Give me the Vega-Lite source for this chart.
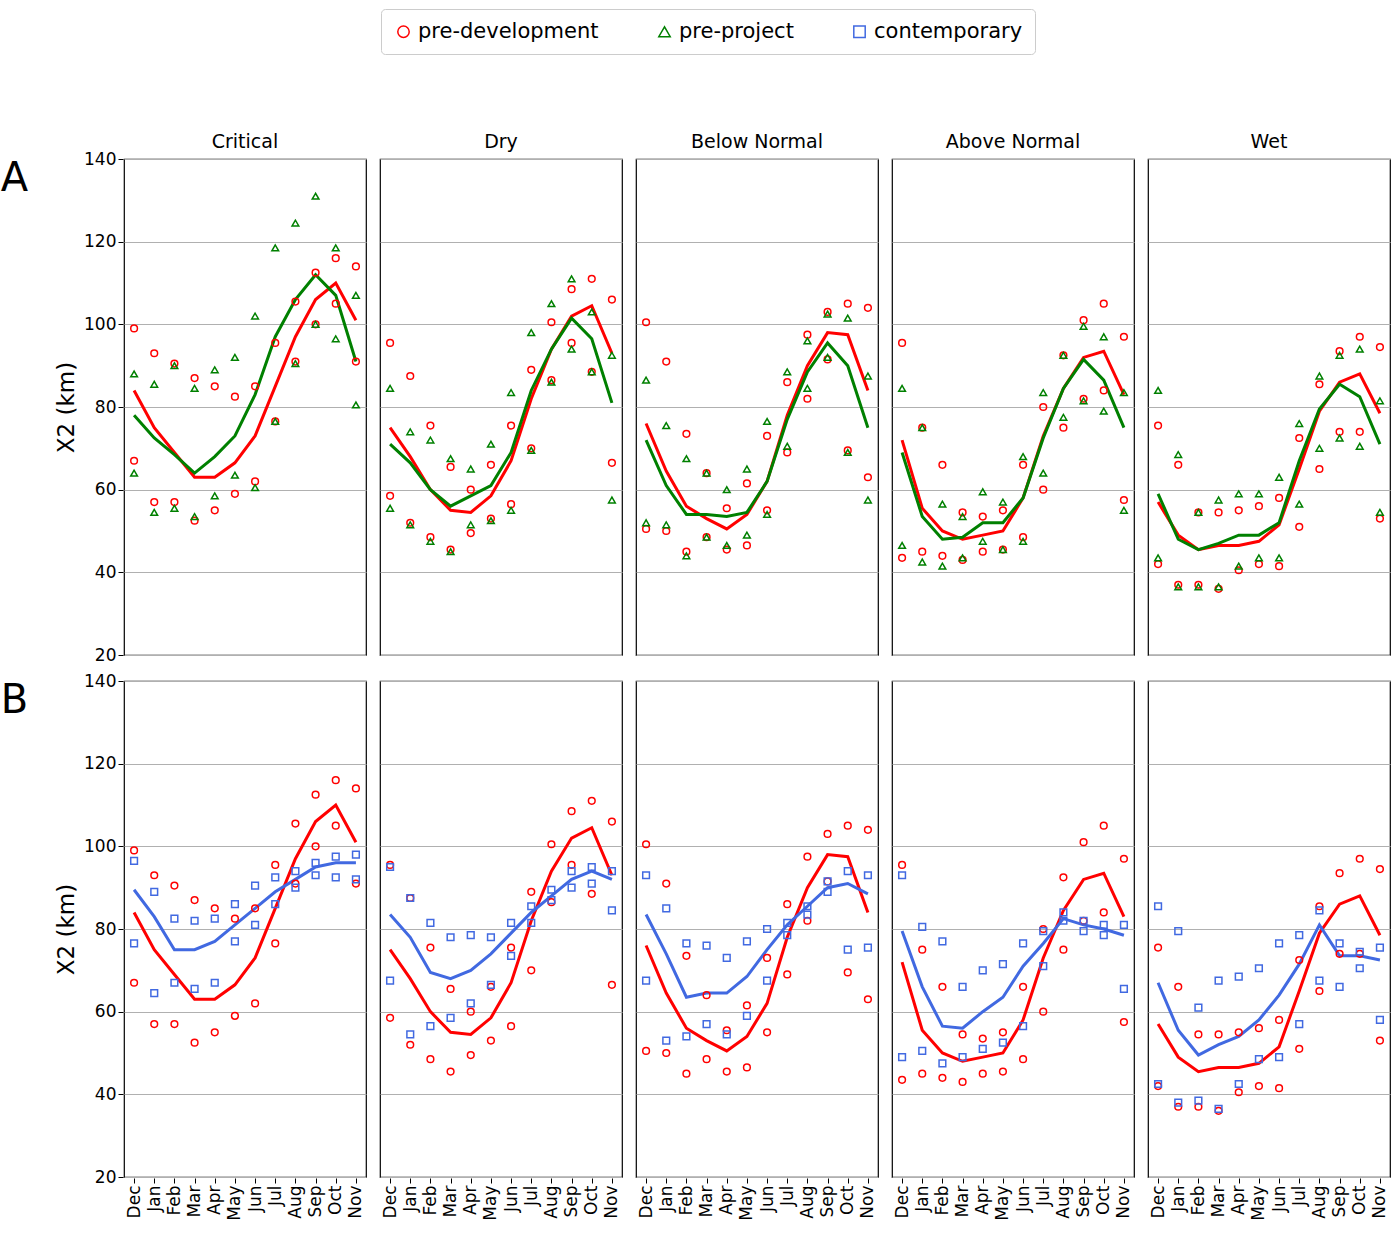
{"$schema":"https://vega.github.io/schema/vega-lite/v6.json","padding":{"left":0,"top":8,"right":0,"bottom":0},"datasets":{"d":[
{"p":"A","t":"Critical","s":"pre-development","m":"Dec","mean":84,"lo":67,"hi":99},
{"p":"A","t":"Critical","s":"pre-development","m":"Jan","mean":75,"lo":57,"hi":93},
{"p":"A","t":"Critical","s":"pre-development","m":"Feb","mean":69,"lo":57,"hi":90.5},
{"p":"A","t":"Critical","s":"pre-development","m":"Mar","mean":63,"lo":52.5,"hi":87},
{"p":"A","t":"Critical","s":"pre-development","m":"Apr","mean":63,"lo":55,"hi":85},
{"p":"A","t":"Critical","s":"pre-development","m":"May","mean":66.5,"lo":59,"hi":82.5},
{"p":"A","t":"Critical","s":"pre-development","m":"Jun","mean":73,"lo":62,"hi":85},
{"p":"A","t":"Critical","s":"pre-development","m":"Jul","mean":85,"lo":76.5,"hi":95.5},
{"p":"A","t":"Critical","s":"pre-development","m":"Aug","mean":97,"lo":91,"hi":105.5},
{"p":"A","t":"Critical","s":"pre-development","m":"Sep","mean":106,"lo":100,"hi":112.5},
{"p":"A","t":"Critical","s":"pre-development","m":"Oct","mean":110,"lo":105,"hi":116},
{"p":"A","t":"Critical","s":"pre-development","m":"Nov","mean":101,"lo":91,"hi":114},
{"p":"B","t":"Critical","s":"pre-development","m":"Dec","mean":84,"lo":67,"hi":99},
{"p":"B","t":"Critical","s":"pre-development","m":"Jan","mean":75,"lo":57,"hi":93},
{"p":"B","t":"Critical","s":"pre-development","m":"Feb","mean":69,"lo":57,"hi":90.5},
{"p":"B","t":"Critical","s":"pre-development","m":"Mar","mean":63,"lo":52.5,"hi":87},
{"p":"B","t":"Critical","s":"pre-development","m":"Apr","mean":63,"lo":55,"hi":85},
{"p":"B","t":"Critical","s":"pre-development","m":"May","mean":66.5,"lo":59,"hi":82.5},
{"p":"B","t":"Critical","s":"pre-development","m":"Jun","mean":73,"lo":62,"hi":85},
{"p":"B","t":"Critical","s":"pre-development","m":"Jul","mean":85,"lo":76.5,"hi":95.5},
{"p":"B","t":"Critical","s":"pre-development","m":"Aug","mean":97,"lo":91,"hi":105.5},
{"p":"B","t":"Critical","s":"pre-development","m":"Sep","mean":106,"lo":100,"hi":112.5},
{"p":"B","t":"Critical","s":"pre-development","m":"Oct","mean":110,"lo":105,"hi":116},
{"p":"B","t":"Critical","s":"pre-development","m":"Nov","mean":101,"lo":91,"hi":114},
{"p":"A","t":"Critical","s":"pre-project","m":"Dec","mean":78,"lo":64,"hi":88},
{"p":"A","t":"Critical","s":"pre-project","m":"Jan","mean":72.5,"lo":54.5,"hi":85.5},
{"p":"A","t":"Critical","s":"pre-project","m":"Feb","mean":68.5,"lo":55.5,"hi":90},
{"p":"A","t":"Critical","s":"pre-project","m":"Mar","mean":64,"lo":53.5,"hi":84.5},
{"p":"A","t":"Critical","s":"pre-project","m":"Apr","mean":68,"lo":58.5,"hi":89},
{"p":"A","t":"Critical","s":"pre-project","m":"May","mean":73,"lo":63.5,"hi":92},
{"p":"A","t":"Critical","s":"pre-project","m":"Jun","mean":83,"lo":60.5,"hi":102},
{"p":"A","t":"Critical","s":"pre-project","m":"Jul","mean":97,"lo":76.5,"hi":118.5},
{"p":"A","t":"Critical","s":"pre-project","m":"Aug","mean":106,"lo":90.5,"hi":124.5},
{"p":"A","t":"Critical","s":"pre-project","m":"Sep","mean":112,"lo":100,"hi":131},
{"p":"A","t":"Critical","s":"pre-project","m":"Oct","mean":107,"lo":96.5,"hi":118.5},
{"p":"A","t":"Critical","s":"pre-project","m":"Nov","mean":91,"lo":80.5,"hi":107},
{"p":"B","t":"Critical","s":"contemporary","m":"Dec","mean":89.5,"lo":76.5,"hi":96.5},
{"p":"B","t":"Critical","s":"contemporary","m":"Jan","mean":83,"lo":64.5,"hi":89},
{"p":"B","t":"Critical","s":"contemporary","m":"Feb","mean":75,"lo":67,"hi":82.5},
{"p":"B","t":"Critical","s":"contemporary","m":"Mar","mean":75,"lo":65.5,"hi":82},
{"p":"B","t":"Critical","s":"contemporary","m":"Apr","mean":77,"lo":67,"hi":82.5},
{"p":"B","t":"Critical","s":"contemporary","m":"May","mean":81,"lo":77,"hi":86},
{"p":"B","t":"Critical","s":"contemporary","m":"Jun","mean":85,"lo":81,"hi":90.5},
{"p":"B","t":"Critical","s":"contemporary","m":"Jul","mean":89,"lo":86,"hi":92.5},
{"p":"B","t":"Critical","s":"contemporary","m":"Aug","mean":92,"lo":90,"hi":94},
{"p":"B","t":"Critical","s":"contemporary","m":"Sep","mean":95,"lo":93,"hi":96},
{"p":"B","t":"Critical","s":"contemporary","m":"Oct","mean":96,"lo":92.5,"hi":97.5},
{"p":"B","t":"Critical","s":"contemporary","m":"Nov","mean":96,"lo":92,"hi":98},
{"p":"A","t":"Dry","s":"pre-development","m":"Dec","mean":75,"lo":58.5,"hi":95.5},
{"p":"A","t":"Dry","s":"pre-development","m":"Jan","mean":68,"lo":52,"hi":87.5},
{"p":"A","t":"Dry","s":"pre-development","m":"Feb","mean":60,"lo":48.5,"hi":75.5},
{"p":"A","t":"Dry","s":"pre-development","m":"Mar","mean":55,"lo":45.5,"hi":65.5},
{"p":"A","t":"Dry","s":"pre-development","m":"Apr","mean":54.5,"lo":49.5,"hi":60},
{"p":"A","t":"Dry","s":"pre-development","m":"May","mean":58.5,"lo":53,"hi":66},
{"p":"A","t":"Dry","s":"pre-development","m":"Jun","mean":67,"lo":56.5,"hi":75.5},
{"p":"A","t":"Dry","s":"pre-development","m":"Jul","mean":82,"lo":70,"hi":89},
{"p":"A","t":"Dry","s":"pre-development","m":"Aug","mean":94,"lo":86.5,"hi":100.5},
{"p":"A","t":"Dry","s":"pre-development","m":"Sep","mean":102,"lo":95.5,"hi":108.5},
{"p":"A","t":"Dry","s":"pre-development","m":"Oct","mean":104.5,"lo":88.5,"hi":111},
{"p":"A","t":"Dry","s":"pre-development","m":"Nov","mean":93,"lo":66.5,"hi":106},
{"p":"B","t":"Dry","s":"pre-development","m":"Dec","mean":75,"lo":58.5,"hi":95.5},
{"p":"B","t":"Dry","s":"pre-development","m":"Jan","mean":68,"lo":52,"hi":87.5},
{"p":"B","t":"Dry","s":"pre-development","m":"Feb","mean":60,"lo":48.5,"hi":75.5},
{"p":"B","t":"Dry","s":"pre-development","m":"Mar","mean":55,"lo":45.5,"hi":65.5},
{"p":"B","t":"Dry","s":"pre-development","m":"Apr","mean":54.5,"lo":49.5,"hi":60},
{"p":"B","t":"Dry","s":"pre-development","m":"May","mean":58.5,"lo":53,"hi":66},
{"p":"B","t":"Dry","s":"pre-development","m":"Jun","mean":67,"lo":56.5,"hi":75.5},
{"p":"B","t":"Dry","s":"pre-development","m":"Jul","mean":82,"lo":70,"hi":89},
{"p":"B","t":"Dry","s":"pre-development","m":"Aug","mean":94,"lo":86.5,"hi":100.5},
{"p":"B","t":"Dry","s":"pre-development","m":"Sep","mean":102,"lo":95.5,"hi":108.5},
{"p":"B","t":"Dry","s":"pre-development","m":"Oct","mean":104.5,"lo":88.5,"hi":111},
{"p":"B","t":"Dry","s":"pre-development","m":"Nov","mean":93,"lo":66.5,"hi":106},
{"p":"A","t":"Dry","s":"pre-project","m":"Dec","mean":71,"lo":55.5,"hi":84.5},
{"p":"A","t":"Dry","s":"pre-project","m":"Jan","mean":66.5,"lo":51.5,"hi":74},
{"p":"A","t":"Dry","s":"pre-project","m":"Feb","mean":60,"lo":47.5,"hi":72},
{"p":"A","t":"Dry","s":"pre-project","m":"Mar","mean":56,"lo":45,"hi":67.5},
{"p":"A","t":"Dry","s":"pre-project","m":"Apr","mean":58.5,"lo":51.5,"hi":65},
{"p":"A","t":"Dry","s":"pre-project","m":"May","mean":61,"lo":52.5,"hi":71},
{"p":"A","t":"Dry","s":"pre-project","m":"Jun","mean":69,"lo":55,"hi":83.5},
{"p":"A","t":"Dry","s":"pre-project","m":"Jul","mean":84,"lo":69.5,"hi":98},
{"p":"A","t":"Dry","s":"pre-project","m":"Aug","mean":94,"lo":86,"hi":105},
{"p":"A","t":"Dry","s":"pre-project","m":"Sep","mean":101.5,"lo":94,"hi":111},
{"p":"A","t":"Dry","s":"pre-project","m":"Oct","mean":96.5,"lo":88.5,"hi":103},
{"p":"A","t":"Dry","s":"pre-project","m":"Nov","mean":81,"lo":57.5,"hi":92.5},
{"p":"B","t":"Dry","s":"contemporary","m":"Dec","mean":83.5,"lo":67.5,"hi":95},
{"p":"B","t":"Dry","s":"contemporary","m":"Jan","mean":78,"lo":54.5,"hi":87.5},
{"p":"B","t":"Dry","s":"contemporary","m":"Feb","mean":69.5,"lo":56.5,"hi":81.5},
{"p":"B","t":"Dry","s":"contemporary","m":"Mar","mean":68,"lo":58.5,"hi":78},
{"p":"B","t":"Dry","s":"contemporary","m":"Apr","mean":70,"lo":62,"hi":78.5},
{"p":"B","t":"Dry","s":"contemporary","m":"May","mean":74,"lo":66.5,"hi":78},
{"p":"B","t":"Dry","s":"contemporary","m":"Jun","mean":79,"lo":73.5,"hi":81.5},
{"p":"B","t":"Dry","s":"contemporary","m":"Jul","mean":84,"lo":81.5,"hi":85.5},
{"p":"B","t":"Dry","s":"contemporary","m":"Aug","mean":88,"lo":87,"hi":89.5},
{"p":"B","t":"Dry","s":"contemporary","m":"Sep","mean":92,"lo":90,"hi":94},
{"p":"B","t":"Dry","s":"contemporary","m":"Oct","mean":94,"lo":91,"hi":95},
{"p":"B","t":"Dry","s":"contemporary","m":"Nov","mean":92,"lo":84.5,"hi":94},
{"p":"A","t":"Below Normal","s":"pre-development","m":"Dec","mean":76,"lo":50.5,"hi":100.5},
{"p":"A","t":"Below Normal","s":"pre-development","m":"Jan","mean":64.5,"lo":50,"hi":91},
{"p":"A","t":"Below Normal","s":"pre-development","m":"Feb","mean":56,"lo":45,"hi":73.5},
{"p":"A","t":"Below Normal","s":"pre-development","m":"Mar","mean":53,"lo":48.5,"hi":64},
{"p":"A","t":"Below Normal","s":"pre-development","m":"Apr","mean":50.5,"lo":45.5,"hi":55.5},
{"p":"A","t":"Below Normal","s":"pre-development","m":"May","mean":54,"lo":46.5,"hi":61.5},
{"p":"A","t":"Below Normal","s":"pre-development","m":"Jun","mean":62,"lo":55,"hi":73},
{"p":"A","t":"Below Normal","s":"pre-development","m":"Jul","mean":78,"lo":69,"hi":86},
{"p":"A","t":"Below Normal","s":"pre-development","m":"Aug","mean":90,"lo":82,"hi":97.5},
{"p":"A","t":"Below Normal","s":"pre-development","m":"Sep","mean":98,"lo":91.5,"hi":103},
{"p":"A","t":"Below Normal","s":"pre-development","m":"Oct","mean":97.5,"lo":69.5,"hi":105},
{"p":"A","t":"Below Normal","s":"pre-development","m":"Nov","mean":84,"lo":63,"hi":104},
{"p":"B","t":"Below Normal","s":"pre-development","m":"Dec","mean":76,"lo":50.5,"hi":100.5},
{"p":"B","t":"Below Normal","s":"pre-development","m":"Jan","mean":64.5,"lo":50,"hi":91},
{"p":"B","t":"Below Normal","s":"pre-development","m":"Feb","mean":56,"lo":45,"hi":73.5},
{"p":"B","t":"Below Normal","s":"pre-development","m":"Mar","mean":53,"lo":48.5,"hi":64},
{"p":"B","t":"Below Normal","s":"pre-development","m":"Apr","mean":50.5,"lo":45.5,"hi":55.5},
{"p":"B","t":"Below Normal","s":"pre-development","m":"May","mean":54,"lo":46.5,"hi":61.5},
{"p":"B","t":"Below Normal","s":"pre-development","m":"Jun","mean":62,"lo":55,"hi":73},
{"p":"B","t":"Below Normal","s":"pre-development","m":"Jul","mean":78,"lo":69,"hi":86},
{"p":"B","t":"Below Normal","s":"pre-development","m":"Aug","mean":90,"lo":82,"hi":97.5},
{"p":"B","t":"Below Normal","s":"pre-development","m":"Sep","mean":98,"lo":91.5,"hi":103},
{"p":"B","t":"Below Normal","s":"pre-development","m":"Oct","mean":97.5,"lo":69.5,"hi":105},
{"p":"B","t":"Below Normal","s":"pre-development","m":"Nov","mean":84,"lo":63,"hi":104},
{"p":"A","t":"Below Normal","s":"pre-project","m":"Dec","mean":72,"lo":52,"hi":86.5},
{"p":"A","t":"Below Normal","s":"pre-project","m":"Jan","mean":61,"lo":51.5,"hi":75.5},
{"p":"A","t":"Below Normal","s":"pre-project","m":"Feb","mean":54,"lo":44,"hi":67.5},
{"p":"A","t":"Below Normal","s":"pre-project","m":"Mar","mean":54,"lo":48.5,"hi":64},
{"p":"A","t":"Below Normal","s":"pre-project","m":"Apr","mean":53.5,"lo":46.5,"hi":60},
{"p":"A","t":"Below Normal","s":"pre-project","m":"May","mean":54.5,"lo":49,"hi":65},
{"p":"A","t":"Below Normal","s":"pre-project","m":"Jun","mean":62,"lo":54,"hi":76.5},
{"p":"A","t":"Below Normal","s":"pre-project","m":"Jul","mean":77,"lo":70.5,"hi":88.5},
{"p":"A","t":"Below Normal","s":"pre-project","m":"Aug","mean":88.5,"lo":84.5,"hi":96},
{"p":"A","t":"Below Normal","s":"pre-project","m":"Sep","mean":95.5,"lo":92,"hi":102.5},
{"p":"A","t":"Below Normal","s":"pre-project","m":"Oct","mean":90,"lo":69,"hi":101.5},
{"p":"A","t":"Below Normal","s":"pre-project","m":"Nov","mean":75,"lo":57.5,"hi":87.5},
{"p":"B","t":"Below Normal","s":"contemporary","m":"Dec","mean":83.5,"lo":67.5,"hi":93},
{"p":"B","t":"Below Normal","s":"contemporary","m":"Jan","mean":74,"lo":53,"hi":85},
{"p":"B","t":"Below Normal","s":"contemporary","m":"Feb","mean":63.5,"lo":54,"hi":76.5},
{"p":"B","t":"Below Normal","s":"contemporary","m":"Mar","mean":64.5,"lo":57,"hi":76},
{"p":"B","t":"Below Normal","s":"contemporary","m":"Apr","mean":64.5,"lo":54.5,"hi":73},
{"p":"B","t":"Below Normal","s":"contemporary","m":"May","mean":68.5,"lo":59,"hi":77},
{"p":"B","t":"Below Normal","s":"contemporary","m":"Jun","mean":75,"lo":67.5,"hi":80},
{"p":"B","t":"Below Normal","s":"contemporary","m":"Jul","mean":81,"lo":78.5,"hi":81.5},
{"p":"B","t":"Below Normal","s":"contemporary","m":"Aug","mean":85.5,"lo":83.5,"hi":85.5},
{"p":"B","t":"Below Normal","s":"contemporary","m":"Sep","mean":90,"lo":89,"hi":91.5},
{"p":"B","t":"Below Normal","s":"contemporary","m":"Oct","mean":91,"lo":75,"hi":94},
{"p":"B","t":"Below Normal","s":"contemporary","m":"Nov","mean":88.5,"lo":75.5,"hi":93},
{"p":"A","t":"Above Normal","s":"pre-development","m":"Dec","mean":72,"lo":43.5,"hi":95.5},
{"p":"A","t":"Above Normal","s":"pre-development","m":"Jan","mean":55.5,"lo":45,"hi":75},
{"p":"A","t":"Above Normal","s":"pre-development","m":"Feb","mean":50,"lo":44,"hi":66},
{"p":"A","t":"Above Normal","s":"pre-development","m":"Mar","mean":48,"lo":43,"hi":54.5},
{"p":"A","t":"Above Normal","s":"pre-development","m":"Apr","mean":49,"lo":45,"hi":53.5},
{"p":"A","t":"Above Normal","s":"pre-development","m":"May","mean":50,"lo":45.5,"hi":55},
{"p":"A","t":"Above Normal","s":"pre-development","m":"Jun","mean":58,"lo":48.5,"hi":66},
{"p":"A","t":"Above Normal","s":"pre-development","m":"Jul","mean":73,"lo":60,"hi":80},
{"p":"A","t":"Above Normal","s":"pre-development","m":"Aug","mean":84.5,"lo":75,"hi":92.5},
{"p":"A","t":"Above Normal","s":"pre-development","m":"Sep","mean":92,"lo":82,"hi":101},
{"p":"A","t":"Above Normal","s":"pre-development","m":"Oct","mean":93.5,"lo":84,"hi":105},
{"p":"A","t":"Above Normal","s":"pre-development","m":"Nov","mean":83,"lo":57.5,"hi":97},
{"p":"B","t":"Above Normal","s":"pre-development","m":"Dec","mean":72,"lo":43.5,"hi":95.5},
{"p":"B","t":"Above Normal","s":"pre-development","m":"Jan","mean":55.5,"lo":45,"hi":75},
{"p":"B","t":"Above Normal","s":"pre-development","m":"Feb","mean":50,"lo":44,"hi":66},
{"p":"B","t":"Above Normal","s":"pre-development","m":"Mar","mean":48,"lo":43,"hi":54.5},
{"p":"B","t":"Above Normal","s":"pre-development","m":"Apr","mean":49,"lo":45,"hi":53.5},
{"p":"B","t":"Above Normal","s":"pre-development","m":"May","mean":50,"lo":45.5,"hi":55},
{"p":"B","t":"Above Normal","s":"pre-development","m":"Jun","mean":58,"lo":48.5,"hi":66},
{"p":"B","t":"Above Normal","s":"pre-development","m":"Jul","mean":73,"lo":60,"hi":80},
{"p":"B","t":"Above Normal","s":"pre-development","m":"Aug","mean":84.5,"lo":75,"hi":92.5},
{"p":"B","t":"Above Normal","s":"pre-development","m":"Sep","mean":92,"lo":82,"hi":101},
{"p":"B","t":"Above Normal","s":"pre-development","m":"Oct","mean":93.5,"lo":84,"hi":105},
{"p":"B","t":"Above Normal","s":"pre-development","m":"Nov","mean":83,"lo":57.5,"hi":97},
{"p":"A","t":"Above Normal","s":"pre-project","m":"Dec","mean":69,"lo":46.5,"hi":84.5},
{"p":"A","t":"Above Normal","s":"pre-project","m":"Jan","mean":53.5,"lo":42.5,"hi":75},
{"p":"A","t":"Above Normal","s":"pre-project","m":"Feb","mean":48,"lo":41.5,"hi":56.5},
{"p":"A","t":"Above Normal","s":"pre-project","m":"Mar","mean":48.5,"lo":43.5,"hi":53.5},
{"p":"A","t":"Above Normal","s":"pre-project","m":"Apr","mean":52,"lo":47.5,"hi":59.5},
{"p":"A","t":"Above Normal","s":"pre-project","m":"May","mean":52,"lo":45.5,"hi":57},
{"p":"A","t":"Above Normal","s":"pre-project","m":"Jun","mean":58,"lo":47.5,"hi":68},
{"p":"A","t":"Above Normal","s":"pre-project","m":"Jul","mean":72.5,"lo":64,"hi":83.5},
{"p":"A","t":"Above Normal","s":"pre-project","m":"Aug","mean":84.5,"lo":77.5,"hi":92.5},
{"p":"A","t":"Above Normal","s":"pre-project","m":"Sep","mean":91.5,"lo":81.5,"hi":99.5},
{"p":"A","t":"Above Normal","s":"pre-project","m":"Oct","mean":86.5,"lo":79,"hi":97},
{"p":"A","t":"Above Normal","s":"pre-project","m":"Nov","mean":75,"lo":55,"hi":83.5},
{"p":"B","t":"Above Normal","s":"contemporary","m":"Dec","mean":79.5,"lo":49,"hi":93},
{"p":"B","t":"Above Normal","s":"contemporary","m":"Jan","mean":66,"lo":50.5,"hi":80.5},
{"p":"B","t":"Above Normal","s":"contemporary","m":"Feb","mean":56.5,"lo":47.5,"hi":77},
{"p":"B","t":"Above Normal","s":"contemporary","m":"Mar","mean":56,"lo":49,"hi":66},
{"p":"B","t":"Above Normal","s":"contemporary","m":"Apr","mean":60,"lo":51,"hi":70},
{"p":"B","t":"Above Normal","s":"contemporary","m":"May","mean":63.5,"lo":52.5,"hi":71.5},
{"p":"B","t":"Above Normal","s":"contemporary","m":"Jun","mean":71,"lo":56.5,"hi":76.5},
{"p":"B","t":"Above Normal","s":"contemporary","m":"Jul","mean":76.5,"lo":71,"hi":79.5},
{"p":"B","t":"Above Normal","s":"contemporary","m":"Aug","mean":82.5,"lo":82,"hi":84},
{"p":"B","t":"Above Normal","s":"contemporary","m":"Sep","mean":81,"lo":79.5,"hi":82},
{"p":"B","t":"Above Normal","s":"contemporary","m":"Oct","mean":80,"lo":78.5,"hi":81},
{"p":"B","t":"Above Normal","s":"contemporary","m":"Nov","mean":78.5,"lo":65.5,"hi":81},
{"p":"A","t":"Wet","s":"pre-development","m":"Dec","mean":57,"lo":42,"hi":75.5},
{"p":"A","t":"Wet","s":"pre-development","m":"Jan","mean":49,"lo":37,"hi":66},
{"p":"A","t":"Wet","s":"pre-development","m":"Feb","mean":45.5,"lo":37,"hi":54.5},
{"p":"A","t":"Wet","s":"pre-development","m":"Mar","mean":46.5,"lo":36,"hi":54.5},
{"p":"A","t":"Wet","s":"pre-development","m":"Apr","mean":46.5,"lo":40.5,"hi":55},
{"p":"A","t":"Wet","s":"pre-development","m":"May","mean":47.5,"lo":42,"hi":56},
{"p":"A","t":"Wet","s":"pre-development","m":"Jun","mean":51.5,"lo":41.5,"hi":58},
{"p":"A","t":"Wet","s":"pre-development","m":"Jul","mean":65,"lo":51,"hi":72.5},
{"p":"A","t":"Wet","s":"pre-development","m":"Aug","mean":79,"lo":65,"hi":85.5},
{"p":"A","t":"Wet","s":"pre-development","m":"Sep","mean":86,"lo":74,"hi":93.5},
{"p":"A","t":"Wet","s":"pre-development","m":"Oct","mean":88,"lo":74,"hi":97},
{"p":"A","t":"Wet","s":"pre-development","m":"Nov","mean":78.5,"lo":53,"hi":94.5},
{"p":"B","t":"Wet","s":"pre-development","m":"Dec","mean":57,"lo":42,"hi":75.5},
{"p":"B","t":"Wet","s":"pre-development","m":"Jan","mean":49,"lo":37,"hi":66},
{"p":"B","t":"Wet","s":"pre-development","m":"Feb","mean":45.5,"lo":37,"hi":54.5},
{"p":"B","t":"Wet","s":"pre-development","m":"Mar","mean":46.5,"lo":36,"hi":54.5},
{"p":"B","t":"Wet","s":"pre-development","m":"Apr","mean":46.5,"lo":40.5,"hi":55},
{"p":"B","t":"Wet","s":"pre-development","m":"May","mean":47.5,"lo":42,"hi":56},
{"p":"B","t":"Wet","s":"pre-development","m":"Jun","mean":51.5,"lo":41.5,"hi":58},
{"p":"B","t":"Wet","s":"pre-development","m":"Jul","mean":65,"lo":51,"hi":72.5},
{"p":"B","t":"Wet","s":"pre-development","m":"Aug","mean":79,"lo":65,"hi":85.5},
{"p":"B","t":"Wet","s":"pre-development","m":"Sep","mean":86,"lo":74,"hi":93.5},
{"p":"B","t":"Wet","s":"pre-development","m":"Oct","mean":88,"lo":74,"hi":97},
{"p":"B","t":"Wet","s":"pre-development","m":"Nov","mean":78.5,"lo":53,"hi":94.5},
{"p":"A","t":"Wet","s":"pre-project","m":"Dec","mean":59,"lo":43.5,"hi":84},
{"p":"A","t":"Wet","s":"pre-project","m":"Jan","mean":48,"lo":36.5,"hi":68.5},
{"p":"A","t":"Wet","s":"pre-project","m":"Feb","mean":45.5,"lo":36.5,"hi":54.5},
{"p":"A","t":"Wet","s":"pre-project","m":"Mar","mean":47,"lo":36.5,"hi":57.5},
{"p":"A","t":"Wet","s":"pre-project","m":"Apr","mean":49,"lo":41.5,"hi":59},
{"p":"A","t":"Wet","s":"pre-project","m":"May","mean":49,"lo":43.5,"hi":59},
{"p":"A","t":"Wet","s":"pre-project","m":"Jun","mean":52,"lo":43.5,"hi":63},
{"p":"A","t":"Wet","s":"pre-project","m":"Jul","mean":67,"lo":56.5,"hi":76},
{"p":"A","t":"Wet","s":"pre-project","m":"Aug","mean":79.5,"lo":70,"hi":87.5},
{"p":"A","t":"Wet","s":"pre-project","m":"Sep","mean":85.5,"lo":72.5,"hi":92.5},
{"p":"A","t":"Wet","s":"pre-project","m":"Oct","mean":82.5,"lo":70.5,"hi":94},
{"p":"A","t":"Wet","s":"pre-project","m":"Nov","mean":71,"lo":54.5,"hi":81.5},
{"p":"B","t":"Wet","s":"contemporary","m":"Dec","mean":67,"lo":42.5,"hi":85.5},
{"p":"B","t":"Wet","s":"contemporary","m":"Jan","mean":55.5,"lo":38,"hi":79.5},
{"p":"B","t":"Wet","s":"contemporary","m":"Feb","mean":49.5,"lo":38.5,"hi":61},
{"p":"B","t":"Wet","s":"contemporary","m":"Mar","mean":52,"lo":36.5,"hi":67.5},
{"p":"B","t":"Wet","s":"contemporary","m":"Apr","mean":54,"lo":42.5,"hi":68.5},
{"p":"B","t":"Wet","s":"contemporary","m":"May","mean":58,"lo":48.5,"hi":70.5},
{"p":"B","t":"Wet","s":"contemporary","m":"Jun","mean":64,"lo":49,"hi":76.5},
{"p":"B","t":"Wet","s":"contemporary","m":"Jul","mean":71.5,"lo":57,"hi":78.5},
{"p":"B","t":"Wet","s":"contemporary","m":"Aug","mean":81,"lo":67.5,"hi":84.5},
{"p":"B","t":"Wet","s":"contemporary","m":"Sep","mean":73.5,"lo":66,"hi":76.5},
{"p":"B","t":"Wet","s":"contemporary","m":"Oct","mean":73.5,"lo":70.5,"hi":74.5},
{"p":"B","t":"Wet","s":"contemporary","m":"Nov","mean":72.5,"lo":58,"hi":75.5}
]},
"data":{"name":"d"},
"facet":{
 "row":{"field":"p","type":"nominal","title":null,"header":{"labelAngle":0,"labelOrient":"left","labelAnchor":"end","labelFontSize":40,"labelFont":"DejaVu Sans","labelPadding":0,"labelBaseline":"top"}},
 "column":{"field":"t","type":"nominal","title":null,"sort":["Critical","Dry","Below Normal","Above Normal","Wet"],"header":{"labelFontSize":19,"labelFont":"DejaVu Sans","labelPadding":6}}
},
"spacing":{"row":24,"column":12},
"spec":{
 "width":242,"height":496,
 "encoding":{
  "x":{"field":"m","type":"ordinal","sort":["Dec","Jan","Feb","Mar","Apr","May","Jun","Jul","Aug","Sep","Oct","Nov"],"scale":{"type":"point","padding":0.5},"title":null,"axis":{"labelAngle":-90,"labelFontSize":17,"labelFont":"DejaVu Sans","labelColor":"black","tickColor":"black","domain":false,"grid":false,"labelBaseline":"middle","labelAlign":"right"}},
  "color":{"field":"s","type":"nominal","scale":{"domain":["pre-development","pre-project","contemporary"],"range":["#ff0000","#008000","#4169e1"]},"title":null,"legend":{"orient":"none","legendX":257,"legendY":-150,"direction":"horizontal","labelFontSize":21,"labelFont":"DejaVu Sans","labelLimit":0,"symbolSize":130,"symbolStrokeWidth":1.5,"symbolFillColor":"white","columnPadding":55,"strokeColor":"#cccccc","padding":12,"cornerRadius":4,"encode":{"symbols":{"update":{"fill":{"value":"white"}}}}}}
 },
 "layer":[
  {"mark":{"type":"line","strokeWidth":3},
   "encoding":{"y":{"field":"mean","type":"quantitative","scale":{"domain":[20,140]},"title":"X2 (km)","axis":{"values":[20,40,60,80,100,120,140],"titleFontSize":23,"titleFont":"DejaVu Sans","titleFontWeight":"normal","titleColor":"black","labelFontSize":17,"labelFont":"DejaVu Sans","labelColor":"black","tickColor":"black","domain":false,"gridColor":"#b0b0b0","titlePadding":5}}}},
  {"transform":[{"fold":["lo","hi"],"as":["q","v"]}],
   "mark":{"type":"point","filled":false,"size":45,"strokeWidth":1.5,"opacity":1},
   "encoding":{"y":{"field":"v","type":"quantitative"},"shape":{"field":"s","type":"nominal","scale":{"domain":["pre-development","pre-project","contemporary"],"range":["circle","triangle-up","square"]},"title":null}}}
 ]
},
"config":{"view":{"stroke":"black","strokeWidth":1.2},"font":"DejaVu Sans"}
}
